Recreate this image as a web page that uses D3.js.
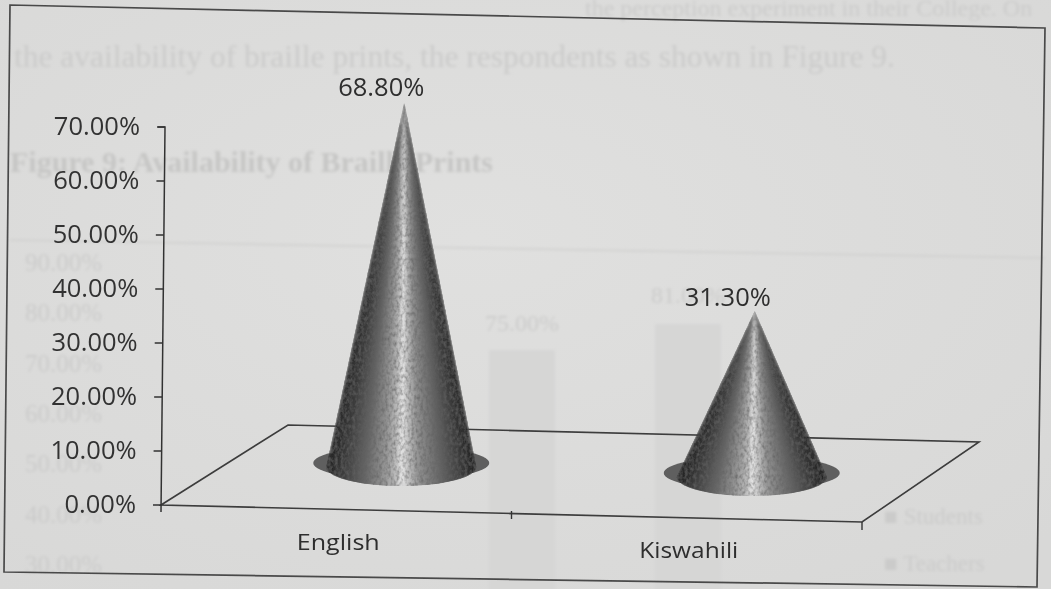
<!DOCTYPE html>
<html><head><meta charset="utf-8">
<script src="https://cdn.jsdelivr.net/npm/d3@7/dist/d3.min.js"></script>
<style>html,body{margin:0;padding:0;background:#dcdcdb;overflow:hidden}svg{display:block}</style>
</head><body><div id="chart"></div>
<script>
const categories = ["English", "Kiswahili"];
const values = [68.8, 31.3];
const valueLabels = ["68.80%", "31.30%"];
const yTicks = [0, 10, 20, 30, 40, 50, 60, 70];
const ghostTicks = ["90.00%", "80.00%", "70.00%", "60.00%", "50.00%", "40.00%", "30.00%"];
const ghostLegend = ["Students", "Teachers"];
const ghostBarLabels = ["75.00%", "81.00%"];
const ghostTopLine = "the perception experiment in their College. On";
const ghostCaption = "the availability of braille prints, the respondents as shown in Figure 9.";
const ghostTitle = "Figure 9: Availability of Braille Prints";

const W = 1051, H = 589;
const svg = d3.select("#chart").append("svg").attr("width", W).attr("height", H);
const defs = svg.append("defs");

const blur = defs.append("filter").attr("id","scan").attr("x","-5%").attr("y","-5%").attr("width","110%").attr("height","110%");
blur.append("feGaussianBlur").attr("stdDeviation",0.7);
const ghostBlur = defs.append("filter").attr("id","ghost").attr("x","-5%").attr("y","-5%").attr("width","110%").attr("height","110%");
ghostBlur.append("feGaussianBlur").attr("stdDeviation",1.6);

const noise = defs.append("filter").attr("id","grain").attr("x","0").attr("y","0").attr("width","100%").attr("height","100%");
noise.append("feGaussianBlur").attr("in","SourceGraphic").attr("stdDeviation","1.6 0.4").attr("result","soft");
noise.append("feComposite").attr("in","soft").attr("in2","SourceAlpha").attr("operator","in").attr("result","softClip");
noise.append("feTurbulence").attr("type","fractalNoise").attr("baseFrequency","0.34 0.24").attr("numOctaves",2).attr("seed",4).attr("result","n");
noise.append("feColorMatrix").attr("in","n").attr("type","matrix")
  .attr("values","0 0 0 0 0.12  0 0 0 0 0.12  0 0 0 0 0.12  1.5 0 0 0 -0.55").attr("result","speck");
noise.append("feComposite").attr("in","speck").attr("in2","SourceAlpha").attr("operator","in").attr("result","clipped");
const mg = noise.append("feMerge");
mg.append("feMergeNode").attr("in","softClip");
mg.append("feMergeNode").attr("in","clipped");

// paper shading
const bg = defs.append("radialGradient").attr("id","paper").attr("cx","45%").attr("cy","40%").attr("r","75%");
bg.append("stop").attr("offset","0%").attr("stop-color","#e0e0df");
bg.append("stop").attr("offset","100%").attr("stop-color","#d8d8d7");
svg.append("rect").attr("width",W).attr("height",H).attr("fill","url(#paper)");

// show-through from the reverse page
const ghost = svg.append("g").attr("filter","url(#ghost)").attr("font-family","'Liberation Serif',serif").attr("fill","#cbcbca");
ghost.append("text").attr("x",585).attr("y",16).attr("font-size",24).text(ghostTopLine);
ghost.append("text").attr("x",14).attr("y",67).attr("font-size",31.5).text(ghostCaption);
ghost.append("text").attr("x",10).attr("y",172).attr("font-size",30).attr("font-weight","bold").attr("fill","#c6c6c5").text(ghostTitle);
const ghostY = d3.scalePoint().domain(ghostTicks).range([264,566]);
ghost.selectAll("text.gt").data(ghostTicks).join("text").attr("class","gt")
  .attr("x",25).attr("y",d=>ghostY(d)+7).attr("font-size",25).text(d=>d);
const ghostX = d3.scalePoint().domain(ghostBarLabels).range([522,688]);
ghost.selectAll("rect").data(ghostBarLabels).join("rect")
  .attr("x",d=>ghostX(d)-33).attr("y",(d,i)=>i?324:350).attr("width",66).attr("height",270).attr("fill","#d6d6d5");
ghost.selectAll("text.gb").data(ghostBarLabels).join("text").attr("class","gb")
  .attr("x",d=>ghostX(d)).attr("y",(d,i)=>i?303:331).attr("text-anchor","middle").attr("font-size",24).text(d=>d);
ghost.selectAll("text.gl").data(ghostLegend).join("text").attr("class","gl")
  .attr("x",884).attr("y",(d,i)=>524+i*47).attr("font-size",23).text(d=>"\u25A0 "+d);
ghost.append("path").attr("d","M10,240L1045,258").attr("stroke","#cfcfce").attr("stroke-width",1.5).attr("fill","none");

const root = svg.append("g").attr("filter","url(#scan)");

// chart frame (the page is slightly skewed)
root.append("path").attr("d","M10,5L1045,28L1037,587L4,572Z").attr("fill","none").attr("stroke","#4a4a4a").attr("stroke-width",1.7);

// scales
const y = d3.scaleLinear().domain([0,70]).range([505,127]);
const x = d3.scaleBand().domain(categories).range([161,862]);
const coneH = d3.scaleLinear().domain([0,70]).range([0,371]);
const depthX = 65, rx = 75, ry = 19;
const floorY = d3.scaleLinear().domain([x.range()[0]+x.bandwidth()/2+depthX, x.range()[1]-x.bandwidth()/2+depthX]).range([467,477]);
const skew = -0.0105; // axis leans with the page

// floor
const floor = [[x.range()[0],y(0)],[288,425],[979,442],[x.range()[1],522]];
root.append("path").attr("d",d3.line()(floor)+"Z").attr("fill","none").attr("stroke","#3c3c3c").attr("stroke-width",1.6);

// y axis
const axisG = root.append("g").attr("class","y-axis").attr("transform","translate(161,0)");
axisG.call(d3.axisLeft(y).tickValues(yTicks).tickSize(8).tickPadding(17).tickFormat(d=>d3.format(".2f")(d)+"%"));
axisG.selectAll("path.domain,line").attr("stroke","#333").attr("stroke-width",1.5);
axisG.selectAll(".tick").attr("transform",d=>`translate(${(y(d)-505)*skew},${y(d)})`);
axisG.select("path.domain").attr("d",`M-3,${y(70)}H4L0,${y(0)+7}`);
axisG.selectAll("text").attr("font-family","'Open Sans',sans-serif").attr("font-size",25.5).attr("fill","#333");
// x ticks
root.selectAll("line.xt").data(x.domain().slice(1).map(x).concat([x.range()[1]])).join("line").attr("class","xt")
  .attr("x1",d=>d).attr("x2",d=>d).attr("y1",(d,i)=>i?522:511).attr("y2",(d,i)=>i?530:519)
  .attr("stroke","#333").attr("stroke-width",1.4);
// category labels
const catWidth = [83, 99];
root.selectAll("text.cat").data(categories).join("text").attr("class","cat")
  .attr("x",d=>x(d)+x.bandwidth()/2+2).attr("y",(d,i)=>550+i*8).attr("text-anchor","middle")
  .attr("textLength",(d,i)=>catWidth[i]).attr("lengthAdjust","spacingAndGlyphs")
  .attr("font-family","'Open Sans',sans-serif").attr("font-size",21.5).attr("fill","#2e2e2e").text(d=>d);

// cones
const shade = d3.scaleLinear()
  .domain([0,0.1,0.25,0.4,0.47,0.5,0.54,0.62,0.78,0.9,1])
  .range(["#242424","#3c3c3c","#666666","#9c9c9c","#c0c0c0","#ececec","#c6c6c6","#929292","#626262","#3e3e3e","#242424"]);
const N = 120;
categories.forEach((c,i)=>{
  const cx = x(c)+x.bandwidth()/2+depthX, cy = floorY(cx), h = coneH(values[i]);
  const g = root.append("g").attr("class","cone");
  g.append("ellipse").attr("cx",cx).attr("cy",cy-4).attr("rx",rx+13).attr("ry",ry-2).attr("fill","#5e5e5e");
  const top = [cx+3,cy-h];
  const body = g.append("g").attr("filter","url(#grain)");
  const slices = d3.range(N);
  body.selectAll("path").data(slices).join("path")
    .attr("d",k=>{
      const a0=Math.PI*(1-k/N), a1=Math.PI*(1-(k+2)/N);
      const p=(a)=>[cx+rx*Math.cos(a),cy+ry*Math.sin(a)];
      return d3.line()([top,p(a0),p(a1)])+"Z";
    })
    .attr("fill",k=>shade((1-Math.cos(Math.PI*(k+0.5)/N))/2));
  root.append("text").attr("x",top[0]-(i?27:23)).attr("y",cy-h-(i?5:6))
    .attr("text-anchor","middle").attr("font-family","'Open Sans',sans-serif").attr("font-size",25.5).attr("fill","#2e2e2e")
    .text(valueLabels[i]);
});
</script></body></html>
